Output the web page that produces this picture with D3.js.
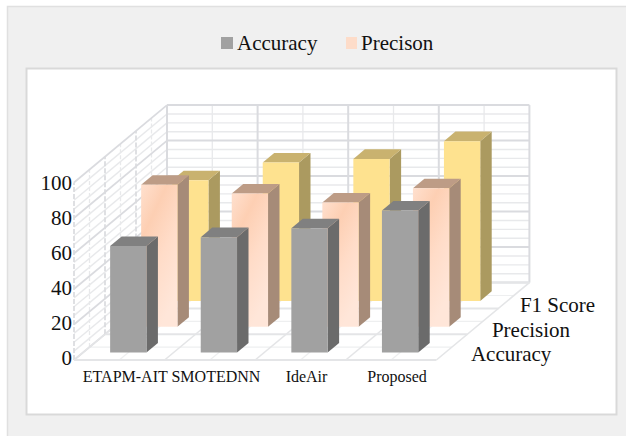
<!DOCTYPE html>
<html>
<head>
<meta charset="utf-8">
<script src="https://cdn.jsdelivr.net/npm/d3@7"></script>
<style>
  html, body { margin: 0; padding: 0; background: #fff; }
  svg { display: block; }
  text { font-family: "Liberation Serif", "Times New Roman", serif; fill: #111; }
</style>
</head>
<body>
<svg id="chart" width="626" height="436"></svg>
<script>
// Chart data
const categories = ["ETAPM-AIT", "SMOTEDNN", "IdeAir", "Proposed"];
const seriesNames = ["Accuracy", "Precision", "F1 Score"];
const accuracy = [60, 65, 70, 80];
const precision = [80, 75, 70, 78];
const f1Score = [68, 78, 80, 90];
const valueTicks = [0, 20, 40, 60, 80, 100];
const legendLabels = ["Accuracy", "Precison"];

const seriesValues = [accuracy, precision, f1Score];

const faceStyles = [
  { front: "#a1a1a1", top: "#808080", side: "#6b6b6b" },
  { front: "url(#peach)", top: "#bd9c86", side: "#a68b78" },
  { front: "#fee28f", top: "#c9b26f", side: "#ab9a60" }
];

const svg = d3.select("#chart");

// Background panels
svg.append("rect").attr("x", 7.5).attr("y", 6.5).attr("width", 630).attr("height", 440)
  .attr("fill", "#f0f0f0").attr("stroke", "#e0e0e0").attr("stroke-width", 1.5);
svg.append("rect").attr("x", 26.5).attr("y", 68.5).attr("width", 590).attr("height", 346)
  .attr("fill", "#fff").attr("stroke", "#d9d9d9").attr("stroke-width", 2);

const defs = svg.append("defs");
const peach = defs.append("linearGradient").attr("id", "peach")
  .attr("x1", 0).attr("y1", 0).attr("x2", 0.55).attr("y2", 1);
[[0, "#ffe0ce"], [0.3, "#fdcfb3"], [0.62, "#ffdcc8"], [1, "#ffe6d9"]].forEach(([o, c]) =>
  peach.append("stop").attr("offset", o).attr("stop-color", c));

// Oblique projection: x across categories, y by value, z into the depth of the chart
const xScale = d3.scaleBand().domain(categories).range([74, 436.4]);
const yScale = d3.scaleLinear().domain([0, 100]).range([360, 182.5]);
const zScale = d3.scaleBand().domain(seriesNames).range([0, 3]);
const sliceDx = 31, sliceDy = -25.8;

function project(x, value, z) {
  return [x + z * sliceDx, yScale(value) + z * sliceDy];
}
const poly = d3.line();
const xStart = xScale.range()[0], xEnd = xScale.range()[1], zEnd = zScale.range()[1];

// Wall and floor grid
const grid = svg.append("g").attr("fill", "none");
const minorColor = "#e8e9eb", majorColor = "#dadbdf";
const majorValues = yScale.ticks(5);
const minorValues = yScale.ticks(25).filter(v => !majorValues.includes(v));
const step = xScale.step();
const xMajor = d3.range(categories.length + 1).map(i => xStart + i * step);
const xMinor = d3.range(categories.length).map(i => xStart + (i + 0.5) * step);
const zMajor = d3.range(seriesNames.length + 1);
const zMinor = d3.range(seriesNames.length).map(i => i + 0.5);

function gridLine(points, color, width, dash) {
  grid.append("path").attr("d", poly(points)).attr("stroke", color)
    .attr("stroke-width", width).attr("stroke-dasharray", dash || null);
}

// Minor lines first so the major ones sit on top
minorValues.forEach(v => {
  gridLine([project(xStart, v, zEnd), project(xEnd, v, zEnd)], minorColor, 1.4);
  gridLine([project(xStart, v, 0), project(xStart, v, zEnd)], minorColor, 1.4);
});
xMinor.forEach(x => {
  gridLine([project(x, 0, zEnd), project(x, 100, zEnd)], minorColor, 1.3);
  gridLine([project(x, 0, 0), project(x, 0, zEnd)], "#eeeff0", 1.2);
});
zMinor.forEach(z => {
  gridLine([project(xStart, 0, z), project(xStart, 100, z)], minorColor, 1.3, "4 2");
  gridLine([project(xStart, 0, z), project(xEnd, 0, z)], "#eeeff0", 1.2);
});
majorValues.forEach(v => {
  gridLine([project(xStart, v, zEnd), project(xEnd, v, zEnd)], majorColor, 2);
  gridLine([project(xStart, v, 0), project(xStart, v, zEnd)], majorColor, 1.7);
});
xMajor.forEach(x => {
  gridLine([project(x, 0, zEnd), project(x, 100, zEnd)], majorColor, 2);
  gridLine([project(x, 0, 0), project(x, 0, zEnd)], "#e4e5e7", 1.6);
});
zMajor.forEach(z => {
  gridLine([project(xStart, 0, z), project(xStart, 100, z)], majorColor, 1.7, "5 2");
  gridLine([project(xStart, 0, z), project(xEnd, 0, z)], "#e4e5e7", 2);
});

// 3D bars, painted from the back row forward
const barWidth = 36.3, zInset = 0.29, zDepth = 0.37;
const bars = svg.append("g");
[2, 1, 0].forEach(s => {
  const z0 = zScale(seriesNames[s]) + zInset, z1 = z0 + zDepth;
  categories.forEach((c, i) => {
    const left = xScale(c) + (step - barWidth) / 2, right = left + barWidth;
    const v = seriesValues[s][i];
    const style = faceStyles[s];
    bars.append("path").attr("fill", style.side).attr("d", poly([
      project(right, 0, z0), project(right, v, z0), project(right, v, z1), project(right, 0, z1)
    ]) + "Z");
    bars.append("path").attr("fill", style.top).attr("d", poly([
      project(left, v, z0), project(right, v, z0), project(right, v, z1), project(left, v, z1)
    ]) + "Z");
    bars.append("path").attr("fill", style.front).attr("d", poly([
      project(left, 0, z0), project(right, 0, z0), project(right, v, z0), project(left, v, z0)
    ]) + "Z");
  });
});

// Value axis labels
const valueLabelScale = d3.scaleLinear().domain([0, 100]).range([358, 183]);
const valueAxis = svg.append("g").attr("transform", "translate(72,0)")
  .call(d3.axisLeft(valueLabelScale).tickValues(valueTicks).tickSize(0).tickPadding(0).tickFormat(d3.format("d")));
valueAxis.select(".domain").remove();
valueAxis.selectAll("text").attr("font-size", 21).attr("font-family", null);

// Category axis labels
const categoryAxis = svg.append("g").attr("transform", "translate(6,371)")
  .call(d3.axisBottom(xScale).tickSize(0).tickPadding(0));
categoryAxis.select(".domain").remove();
categoryAxis.selectAll("text").attr("font-size", 16).attr("font-family", null);

// Depth axis labels, nudged clear of the floor's right edge
const depthNudge = [[19, 14], [9, 16], [6, 16]];
svg.append("g").selectAll("text").data(seriesNames).join("text")
  .attr("font-size", 21)
  .attr("x", (d, i) => project(xEnd, 0, zScale(d) + zScale.bandwidth() / 2)[0] + depthNudge[i][0])
  .attr("y", (d, i) => project(xEnd, 0, zScale(d) + zScale.bandwidth() / 2)[1] + depthNudge[i][1])
  .text(d => d);

// Legend
const legendSwatch = [
  { x: 221, w: 12, fill: "#a1a1a1" },
  { x: 346, w: 11, fill: "#fddcc9" }
];
const legendTextX = [237, 361];
const legend = svg.append("g");
legendLabels.forEach((label, i) => {
  legend.append("rect").attr("x", legendSwatch[i].x).attr("y", 37)
    .attr("width", legendSwatch[i].w).attr("height", 12).attr("fill", legendSwatch[i].fill);
  legend.append("text").attr("x", legendTextX[i]).attr("y", 50).attr("font-size", 21).text(label);
});
</script>
</body>
</html>
